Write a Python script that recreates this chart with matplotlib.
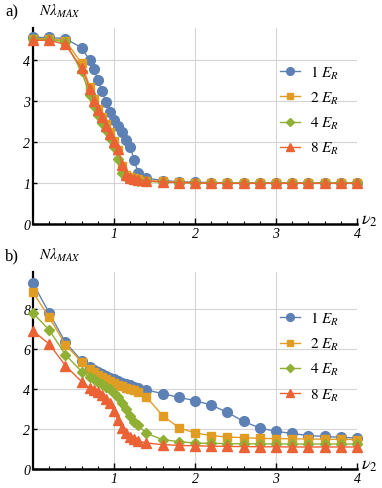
import matplotlib
matplotlib.use("Agg")
import matplotlib.pyplot as plt
from matplotlib.ticker import MultipleLocator, FixedLocator

plt.rcParams['mathtext.fontset'] = 'stix'

# ---------------- data ----------------
v2 = [0, 0.2, 0.4, 0.6, 0.7, 0.75, 0.8, 0.85, 0.9, 0.95, 1.0, 1.05, 1.1, 1.15, 1.2,
      1.25, 1.3, 1.4, 1.6, 1.8, 2.0, 2.2, 2.4, 2.6, 2.8, 3.0, 3.2, 3.4, 3.6, 3.8, 4.0]

labels = [r"$\mathit{1}\ E_R$", r"$\mathit{2}\ E_R$", r"$\mathit{4}\ E_R$", r"$\mathit{8}\ E_R$"]

a_1ER = [4.55, 4.55, 4.52, 4.30, 3.99, 3.78, 3.52, 3.25, 2.98, 2.74, 2.54, 2.40, 2.25, 2.06, 1.88,
         1.55, 1.24, 1.12, 1.06, 1.03, 1.02, 1.01, 1.01, 1.0, 1.0, 1.0, 1.0, 1.0, 1.0, 1.0, 1.0]
a_2ER = [4.52, 4.52, 4.47, 3.92, 3.35, 3.05, 2.80, 2.62, 2.44, 2.24, 2.02, 1.80, 1.42, 1.20, 1.14,
         1.12, 1.10, 1.06, 1.04, 1.02, 1.01, 1.0, 1.0, 1.0, 1.0, 1.0, 1.0, 1.0, 1.0, 1.0, 1.0]
a_4ER = [4.50, 4.50, 4.44, 3.72, 3.15, 2.88, 2.65, 2.47, 2.30, 2.10, 1.87, 1.58, 1.25, 1.15, 1.10,
         1.08, 1.06, 1.04, 1.02, 1.01, 1.0, 1.0, 1.0, 1.0, 1.0, 1.0, 1.0, 1.0, 1.0, 1.0, 1.0]
a_8ER = [4.48, 4.48, 4.38, 3.80, 3.30, 3.00, 2.77, 2.60, 2.40, 2.20, 2.00, 1.82, 1.45, 1.20, 1.12,
         1.10, 1.08, 1.05, 1.03, 1.01, 1.0, 0.99, 0.99, 0.99, 0.99, 0.99, 0.99, 0.99, 0.99, 0.99, 0.99]

b_1ER = [9.28, 7.80, 6.33, 5.42, 5.08, 4.95, 4.85, 4.75, 4.65, 4.55, 4.48, 4.40, 4.32, 4.25, 4.18,
         4.10, 4.03, 3.95, 3.77, 3.58, 3.42, 3.20, 2.83, 2.38, 2.05, 1.88, 1.78, 1.67, 1.63, 1.58, 1.55]
b_2ER = [8.83, 7.58, 6.22, 5.35, 5.00, 4.85, 4.72, 4.60, 4.50, 4.40, 4.30, 4.22, 4.15, 4.07, 4.00,
         3.93, 3.85, 3.60, 2.67, 2.07, 1.80, 1.67, 1.60, 1.57, 1.53, 1.52, 1.51, 1.50, 1.49, 1.48, 1.47]
b_4ER = [7.80, 6.95, 5.72, 4.87, 4.60, 4.48, 4.37, 4.25, 4.12, 3.98, 3.82, 3.60, 3.30, 2.98, 2.65,
         2.35, 2.18, 1.78, 1.47, 1.37, 1.30, 1.28, 1.27, 1.26, 1.26, 1.25, 1.25, 1.25, 1.25, 1.25, 1.25]
b_8ER = [6.90, 6.25, 5.17, 4.37, 4.05, 3.95, 3.83, 3.70, 3.52, 3.28, 2.90, 2.45, 2.05, 1.78, 1.58,
         1.48, 1.40, 1.30, 1.22, 1.18, 1.16, 1.14, 1.13, 1.12, 1.11, 1.11, 1.10, 1.10, 1.10, 1.10, 1.10]

colors = ['#5E81B5', '#E19C24', '#8FB032', '#EB6235']
markers = ['o', 's', 'D', '^']
msizes = [7.0, 5.2, 5.0, 6.6]

W, H = 382, 489
fig = plt.figure(figsize=(W / 100, H / 100), dpi=100)

def px_axes(left, right, top, bottom):
    return fig.add_axes([left / W, 1 - bottom / H, (right - left) / W, (bottom - top) / H])

ax_a = px_axes(33, 357, 29, 225)
ax_b = px_axes(33, 357, 273, 470)

tick_font = dict(family='Liberation Serif', style='italic', size=10)

def style(ax, ymax, ystep, series, panel, legy):
    for ys, c, m, ms, lab in zip(series, colors, markers, msizes, labels):
        ax.plot(v2, ys, color=c, lw=1.0, marker=m, ms=ms, mec=c, mfc=c,
                clip_on=False, zorder=3, label=lab)
    ax.set_xlim(0, 4)
    ax.set_ylim(0, ymax)
    for s in ['top', 'right']:
        ax.spines[s].set_visible(False)
    ax.spines['left'].set_linewidth(1.6)
    ax.spines['bottom'].set_linewidth(1.8)
    ax.xaxis.set_major_locator(FixedLocator([1, 2, 3, 4]))
    ax.xaxis.set_minor_locator(MultipleLocator(0.2))
    ax.yaxis.set_major_locator(MultipleLocator(ystep))
    ax.tick_params(axis='x', which='major', direction='in', length=4, width=1.0, pad=2)
    ax.tick_params(axis='x', which='minor', direction='in', length=2.5, width=0.8)
    ax.tick_params(axis='y', which='major', direction='in', length=3, width=1.0, pad=2)
    ax.set_xticklabels(['1', '2', '3', '4'], fontdict=tick_font)
    yt = [i * ystep for i in range(int(ymax // ystep) + 1)]
    ax.set_yticks(yt)
    ax.set_yticklabels([str(int(t)) for t in yt], fontdict=tick_font)
    ax.grid(True, which='major', color='#d4d4d4', lw=0.8, zorder=0)
    ax.set_axisbelow(True)
    ax.legend(loc='upper left', bbox_to_anchor=(0.745, legy), frameon=False,
              handlelength=1.3, handletextpad=0.6, labelspacing=0.6, markerscale=0.8,
              prop=dict(size=11), borderaxespad=0)
    ax.text(1.012, -0.02, r"$\nu_2$", transform=ax.transAxes, fontsize=13,
            ha='left', va='bottom')
    ax.text(-0.085, 1.045, panel, transform=ax.transAxes, fontsize=12,
            family='Liberation Serif', ha='left', va='bottom')
    ax.text(0.02, 1.045, r"$N\lambda_{MAX}$", transform=ax.transAxes, fontsize=11,
            ha='left', va='bottom')

style(ax_a, 4.78, 1, [a_1ER, a_2ER, a_4ER, a_8ER], 'a)', 0.85)
style(ax_b, 9.85, 2, [b_1ER, b_2ER, b_4ER, b_8ER], 'b)', 0.84)

fig.savefig('out.png', dpi=100)
